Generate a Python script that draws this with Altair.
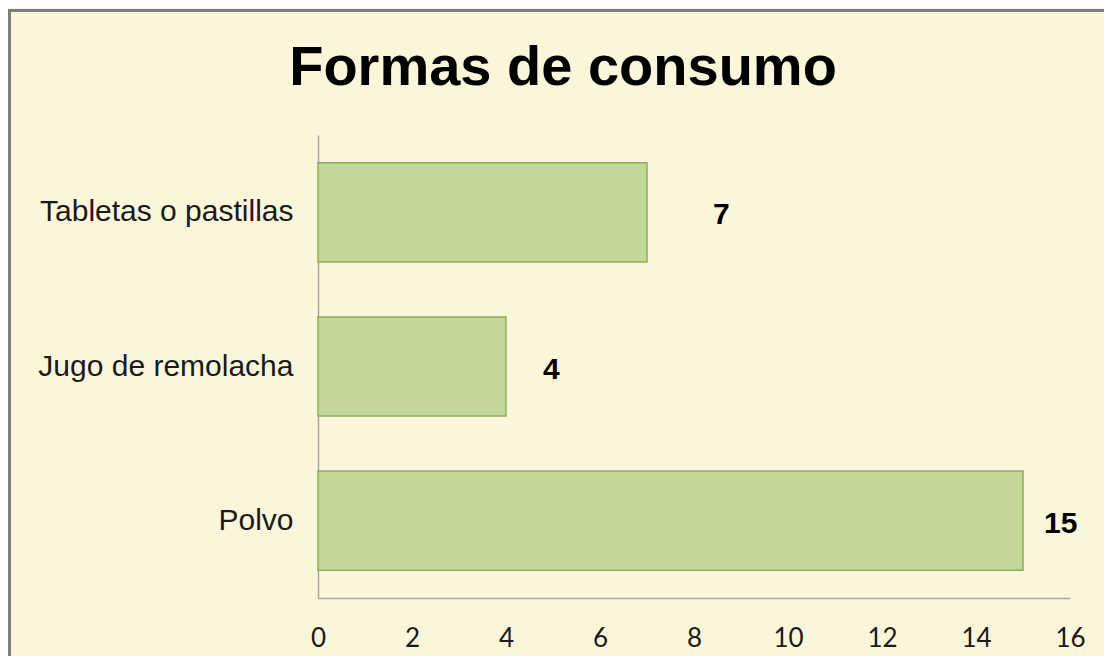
import altair as alt
import pandas as pd

categories = ["Tabletas o pastillas", "Jugo de remolacha", "Polvo"]
values = [7, 4, 15]
x_ticks = [0, 2, 4, 6, 8, 10, 12, 14, 16]
label_dx = [66, 37, 21]

df = pd.DataFrame({"forma": categories, "cantidad": values})

x_enc = alt.X(
    "cantidad:Q",
    scale=alt.Scale(domain=[0, 16], nice=False),
    axis=alt.Axis(
        values=x_ticks, title=None, grid=False, ticks=False, labelFlush=False,
        labelFont="Lato", labelFontSize=26, labelColor="#1a1a1a",
        labelPadding=27, domainColor="#A6A6A6", domainWidth=1.5,
    ),
)
y_enc = alt.Y(
    "forma:N",
    sort=categories,
    scale=alt.Scale(paddingInner=0.357, paddingOuter=0.18),
    axis=alt.Axis(
        title=None, ticks=False, labelFont="Liberation Sans", labelFontSize=30,
        labelColor="#1a1a1a", labelPadding=25, labelLimit=400,
        domainColor="#A6A6A6", domainWidth=1.5,
    ),
)

base = alt.Chart(df)

bars = base.mark_bar(color="#C4D79B", stroke="#8EB054", strokeWidth=1.5).encode(
    x=x_enc, y=y_enc
)

layers = [bars]
for cat, dx in zip(categories, label_dx):
    layers.append(
        base.transform_filter(alt.datum.forma == cat)
        .mark_text(align="left", baseline="middle", dx=dx, dy=3,
                   font="Liberation Sans", fontSize=30, fontWeight="bold",
                   color="black")
        .encode(x=x_enc, y=y_enc, text="cantidad:Q")
    )

border = alt.Chart(alt.Data(values=[{}])).mark_rect(
    filled=False, stroke="#7F7F7F", strokeWidth=3
).encode(
    x=alt.value(-308.5), x2=alt.value(2000),
    y=alt.value(-124.5), y2=alt.value(2000),
)
layers.append(border)

chart = alt.layer(*layers).properties(
    width=752,
    height=463,
    autosize=alt.AutoSizeParams(type="none"),
    padding={"left": 310, "top": 127, "right": 34, "bottom": 58},
    background="#FBF6DA",
    title=alt.TitleParams(
        "Formas de consumo", font="Liberation Sans", fontSize=56,
        fontWeight="bold", color="black", anchor="middle", dx=-131,
        baseline="alphabetic", offset=0, dy=132,
    ),
).configure_view(stroke=None)

chart.save("out.html", embed_options={"renderer": "svg", "actions": False})
